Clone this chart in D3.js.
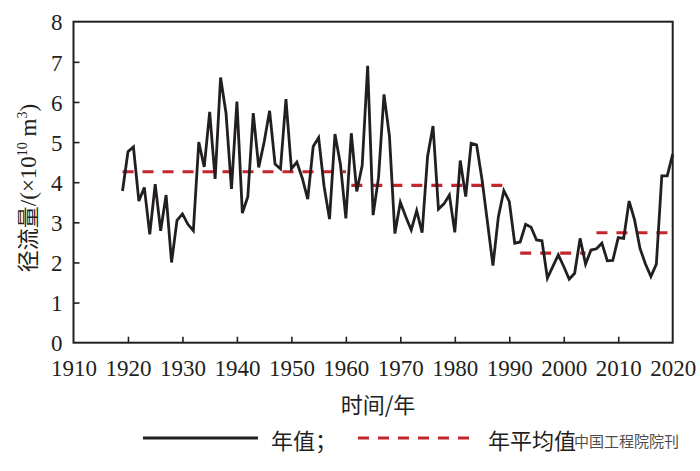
<!DOCTYPE html>
<html>
<head>
<meta charset="utf-8">
<script src="https://cdn.jsdelivr.net/npm/d3@7/dist/d3.min.js"></script>
<style>
  html, body { margin: 0; padding: 0; background: #fff; }
  svg { display: block; }
  text { font-family: "Liberation Serif", "Times New Roman", Tinos, "DejaVu Serif", "Noto Sans CJK SC", serif; fill: #231f20; }
  .cjk { font-family: "Noto Sans CJK SC", sans-serif; }
  .lat { font-family: "Liberation Serif", "Times New Roman", Tinos, "DejaVu Serif", serif; }
</style>
</head>
<body>
<svg id="chart" width="700" height="471"></svg>
<script>
// ---- data ----
const years = d3.range(1919, 2021);
const runoff = [
  3.78, 4.76, 4.88, 3.53, 3.87, 2.70, 3.95, 2.79, 3.68, 2.00,   // 1919-1928
  3.05, 3.21, 2.95, 2.79, 5.00, 4.38, 5.75, 4.08, 6.61, 5.72,   // 1929-1938
  3.83, 6.01, 3.23, 3.64, 5.72, 4.37, 5.00, 5.78, 4.45, 4.33,   // 1939-1948
  6.07, 4.33, 4.50, 4.10, 3.58, 4.89, 5.11, 3.90, 3.08, 5.20,   // 1949-1958
  4.45, 3.10, 5.22, 3.77, 4.42, 6.90, 3.18, 4.12, 6.19, 5.15,   // 1959-1968
  2.72, 3.50, 3.14, 2.81, 3.29, 2.74, 4.64, 5.40, 3.33, 3.46,   // 1969-1978
  3.68, 2.75, 4.54, 3.64, 4.97, 4.93, 4.06, 3.00, 1.92, 3.14,   // 1979-1988
  3.79, 3.52, 2.48, 2.51, 2.95, 2.88, 2.56, 2.54, 1.61, 1.90,   // 1989-1998
  2.19, 1.90, 1.58, 1.73, 2.60, 1.96, 2.31, 2.34, 2.48, 2.04,   // 1999-2008
  2.05, 2.62, 2.60, 3.53, 3.06, 2.35, 1.96, 1.65, 1.96, 4.16,   // 2009-2018
  4.16, 4.70                                                    // 2019-2020
];
const meanStart = [1919, 1961, 1992, 2006];
const meanEnd   = [1960, 1990, 2004, 2020];
const meanValue = [4.26, 3.92, 2.23, 2.74];
const xTicks = d3.range(1910, 2021, 10);
const yTicks = d3.range(0, 9, 1);
const xTitle = "时间/年";
const legendLabels = ["年值；", "年平均值"];
const watermark = "中国工程院院刊";

// ---- layout ----
const svg = d3.select("#chart");
const L = 73.5, R = 672.7, T = 21.7, B = 342.7;
const x = d3.scaleLinear().domain([1910, 2020]).range([L, R]);
const y = d3.scaleLinear().domain([0, 8]).range([B, T]);
const ink = "#231f20", red = "#c1272d";
const serif = '"Liberation Serif", "Times New Roman", Tinos, "DejaVu Serif", serif';

// axes (ticks inward)
const xAxis = d3.axisBottom(x).tickValues(xTicks).tickSize(-6).tickPadding(17).tickFormat(d3.format("d"));
const yAxis = d3.axisLeft(y).tickValues(yTicks).tickSize(-6).tickPadding(11).tickFormat(d3.format("d"));

const gx = svg.append("g").attr("transform", `translate(0,${B})`).call(xAxis);
const gy = svg.append("g").attr("transform", `translate(${L},0)`).call(yAxis);
[gx, gy].forEach(g => {
  g.attr("font-family", serif).attr("font-size", 23);
  g.select(".domain").remove();
  g.selectAll(".tick line").attr("stroke", ink).attr("stroke-width", 1.6);
  g.selectAll(".tick text").attr("fill", ink).style("font-family", serif).style("font-size", "23px");
});
gx.selectAll(".tick line").filter(d => d === 1910 || d === 2020).remove();
gy.selectAll(".tick line").filter(d => d === 0 || d === 8).remove();
gy.selectAll(".tick text").attr("dy", "0.36em");

// frame
svg.append("rect").attr("x", L).attr("y", T).attr("width", R - L).attr("height", B - T)
  .attr("fill", "none").attr("stroke", ink).attr("stroke-width", 2);

// mean segments
svg.append("g").selectAll("line").data(meanValue).join("line")
  .attr("x1", (d, i) => x(meanStart[i])).attr("x2", (d, i) => x(meanEnd[i]))
  .attr("y1", d => y(d)).attr("y2", d => y(d))
  .attr("stroke", red).attr("stroke-width", 3.2).attr("stroke-dasharray", "11,9");

// annual line
const line = d3.line().x((d, i) => x(years[i])).y(d => y(d));
svg.append("path").datum(runoff).attr("d", line)
  .attr("fill", "none").attr("stroke", ink).attr("stroke-width", 2.8)
  .attr("stroke-linejoin", "miter").attr("stroke-miterlimit", 4);

// axis titles
svg.append("text").attr("class", "cjk").attr("x", 378).attr("y", 413).attr("text-anchor", "middle")
  .attr("font-size", 22).text(xTitle);

const yt = svg.append("text").attr("transform", "translate(36,188) rotate(-90)")
  .attr("text-anchor", "middle").attr("font-size", 23);
yt.append("tspan").attr("class", "cjk").attr("font-size", 22).text("径流量");
yt.append("tspan").attr("class", "lat").text("/(×10");
yt.append("tspan").attr("class", "lat").attr("font-size", 14).attr("dy", -9).text("10");
yt.append("tspan").attr("class", "lat").attr("dy", 9).text(" m");
yt.append("tspan").attr("class", "lat").attr("font-size", 14).attr("dy", -9).text("3");
yt.append("tspan").attr("class", "lat").attr("dy", 9).text(")");

// legend
const lg = svg.append("g");
lg.append("line").attr("x1", 143).attr("x2", 258).attr("y1", 438).attr("y2", 438)
  .attr("stroke", ink).attr("stroke-width", 3.2);
lg.append("text").attr("class", "cjk").attr("x", 271).attr("y", 449).attr("font-size", 22).text(legendLabels[0]);
lg.append("line").attr("x1", 358).attr("x2", 476).attr("y1", 438).attr("y2", 438)
  .attr("stroke", red).attr("stroke-width", 3.2).attr("stroke-dasharray", "11,9");
lg.append("text").attr("class", "cjk").attr("x", 488).attr("y", 449).attr("font-size", 22).text(legendLabels[1]);

// watermark
svg.append("text").attr("class", "cjk").attr("x", 574).attr("y", 447).attr("font-size", 15)
  .attr("fill", "#8a8a8a").attr("opacity", 0.8).text(watermark);
</script>
</body>
</html>
